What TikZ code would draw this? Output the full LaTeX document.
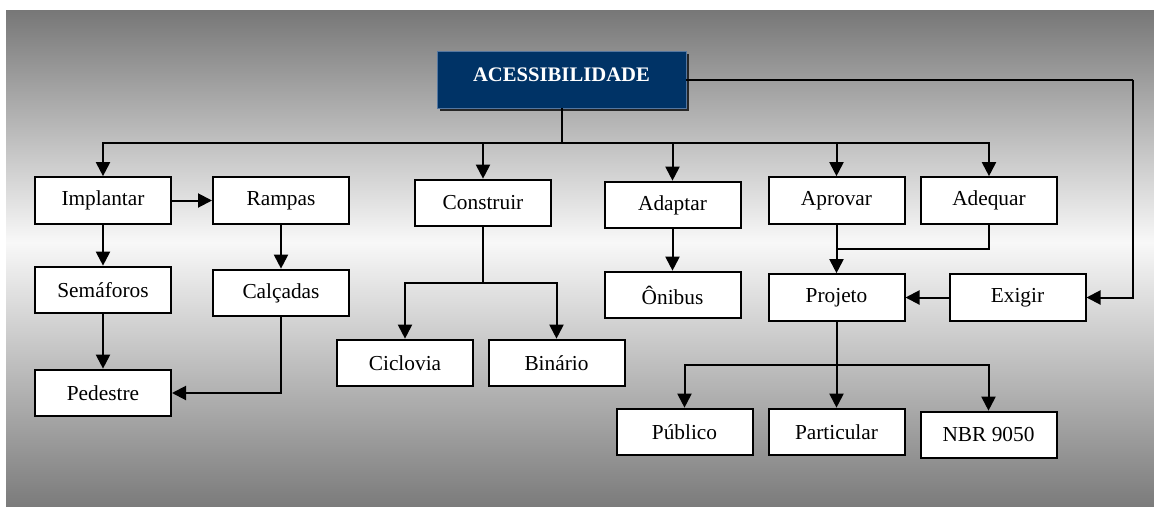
\documentclass[tikz,border=0pt]{standalone}
\usepackage{fontspec}
\setmainfont{Liberation Serif}
\usetikzlibrary{arrows.meta,shadows}
\definecolor{bgdark}{HTML}{777777}
\definecolor{bglight}{HTML}{F8F8F8}
\definecolor{navy}{HTML}{003366}
\definecolor{navyedge}{HTML}{5577A0}
\pgfdeclareverticalshading{bgshade}{100bp}{color(0bp)=(bgdark); color(25bp)=(bgdark); color(52bp)=(bglight); color(75bp)=(bgdark); color(100bp)=(bgdark)}
\tikzset{
  box/.style={draw=black, fill=white, line width=1.5pt, minimum width=102pt, minimum height=35pt,
    inner sep=0pt, font=\fontsize{16}{19}\selectfont},
  title/.style={draw=navyedge, line width=0.6pt, fill=navy, text=white, minimum width=186.75pt,
    minimum height=42.75pt, inner sep=0pt, font=\fontsize{15.5}{18}\selectfont\bfseries,
    drop shadow={shadow xshift=2.2pt, shadow yshift=-2.2pt, fill=black!85, opacity=1}},
  conn/.style={line width=1.5pt, draw=black},
  arr/.style={conn, -{Triangle[length=10.5pt,width=10.5pt]}}
}
\begin{document}
\begin{tikzpicture}[x=0.75pt,y=-0.75pt]
\useasboundingbox (0,0) rectangle (1154,507);
\shade[shading=bgshade] (6,10) rectangle (1162,515);

\node[title] (acc) at (561.5,79.5) {\raisebox{7.5pt}{ACESSIBILIDADE}};

\node[box] (impl) at (103,200.5) {Implantar};
\node[box] (ramp) at (281,200.5) {Rampas};
\node[box] (sema) at (103,290) {Semáforos};
\node[box] (calc) at (281,293) {Calçadas};
\node[box] (pede) at (103,393) {Pedestre};
\node[box] (cons) at (483,203) {Construir};
\node[box] (cicl) at (405,363) {Ciclovia};
\node[box] (bina) at (556.5,363) {Binário};
\node[box] (adap) at (672.5,205) {Adaptar};
\node[box] (onib) at (672.5,295) {Ônibus};
\node[box] (apro) at (836.5,200.5) {Aprovar};
\node[box] (adeq) at (989,200.5) {Adequar};
\node[box] (proj) at (836.5,297.5) {Projeto};
\node[box] (exig) at (1017.5,297.5) {Exigir};
\node[box] (publ) at (684.5,432) {Público};
\node[box] (part) at (836.5,432) {Particular};
\node[box] (nbr) at (988.5,435) {NBR 9050};

% bus from title
\coordinate (bus) at (561.5,143);
\draw[conn] (acc.south) -- (bus);
\draw[arr] (bus) -| (impl.north);
\draw[arr] (bus) -| (cons.north);
\draw[arr] (bus) -| (adap.north);
\draw[arr] (bus) -| (apro.north);
\draw[arr] (bus) -| (adeq.north);

% right loop to Exigir
\coordinate (rc) at (1133,79.5);
\draw[conn] (acc.east) -- (rc);
\draw[arr] (rc) |- (exig.east);

% left column
\draw[arr] (impl.east) -- (ramp.west);
\draw[arr] (impl.south) -- (sema.north);
\draw[arr] (ramp.south) -- (calc.north);
\draw[arr] (sema.south) -- (pede.north);
\draw[arr] (calc.south) |- (pede.east);

% Construir
\coordinate (cj) at (483,283);
\draw[conn] (cons.south) -- (cj);
\draw[arr] (cj) -| (cicl.north);
\draw[arr] (cj) -| (bina.north);

% Adaptar
\draw[arr] (adap.south) -- (onib.north);

% Aprovar / Adequar -> Projeto
\coordinate (mj) at (836.5,249);
\draw[arr] (apro.south) -- (proj.north);
\draw[conn] (adeq.south) |- (mj);

% Exigir -> Projeto
\draw[arr] (exig.west) -- (proj.east);

% Projeto children
\coordinate (pj) at (836.5,365);
\draw[conn] (proj.south) -- (pj);
\draw[arr] (pj) -| (publ.north);
\draw[arr] (pj) -- (part.north);
\draw[arr] (pj) -| (nbr.north);
\end{tikzpicture}
\end{document}
